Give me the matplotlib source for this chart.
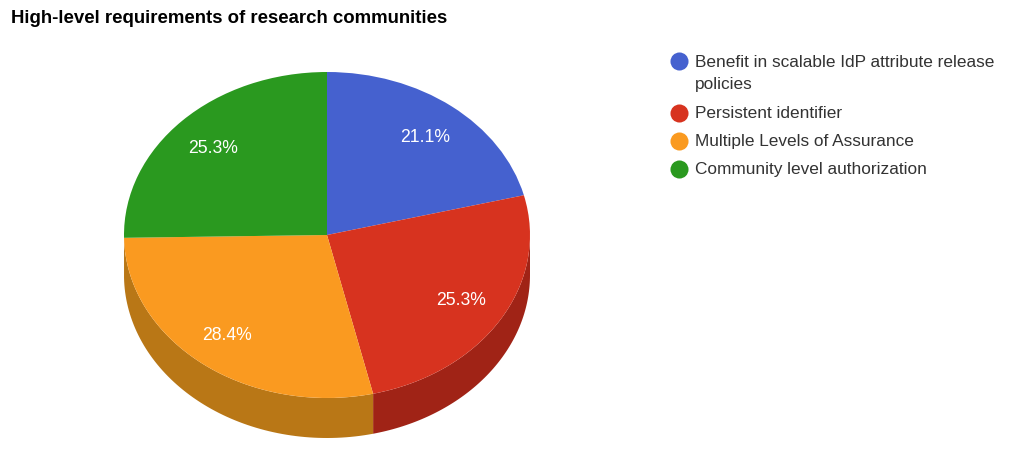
import matplotlib
matplotlib.use('Agg')
import matplotlib.pyplot as plt
from matplotlib.lines import Line2D
import numpy as np

plt.rcParams['font.family'] = ['Liberation Sans', 'DejaVu Sans']

title = 'High-level requirements of research communities'
labels = ['Benefit in scalable IdP attribute release\npolicies', 'Persistent identifier',
          'Multiple Levels of Assurance', 'Community level authorization']
values = [21.1, 25.3, 28.4, 25.3]
colors = ['#4561CF', '#D7331F', '#FA9A20', '#2A991F']
side_colors = ['#2F4390', '#A02316', '#B97716', '#B97716']

W, H = 1013, 461
CX, CY, RX, RY = 327, 235, 203, 163
DEPTH = 40 / RY

fig = plt.figure(figsize=(W / 100, H / 100), dpi=100)
ax = fig.add_axes([0, 0, 1, 1])

# side of the pie first, only the part facing the viewer shows
angle = 90.0
total = sum(values)
for val, col in zip(values, side_colors):
    end = angle - val / total * 360
    lo, hi = max(end, -180), min(angle, 0)
    if hi > lo:
        t = np.radians(np.linspace(lo, hi, 80))
        x = np.cos(t)
        y = np.sin(t)
        ax.fill(np.r_[x, x[::-1]], np.r_[y, y[::-1] - DEPTH], color=col, lw=0)
    angle = end

wedges, texts, autotexts = ax.pie(values, colors=colors, startangle=90, counterclock=False,
                                  autopct='%.1f%%', pctdistance=0.77,
                                  textprops={'color': 'white', 'fontsize': 12.7},
                                  wedgeprops={'linewidth': 0})

# small nudges of the percent labels, in pixels
nudges = [(2, 1), (1, 0), (-4, 2), (-2, 1)]
for txt, (dx, dy) in zip(autotexts, nudges):
    px, py = txt.get_position()
    txt.set_position((px + dx / RX, py - dy / RY))

ax.set_aspect('auto')
ax.set_xlim(-CX / RX, (W - CX) / RX)
ax.set_ylim((CY - H) / RY, CY / RY)
ax.axis('off')

fig.text(11 / W, 1 - 18.5 / H, title, fontsize=13.4, fontweight='bold', color='black', va='center')

# legend by hand, the wrapped first entry needs its own line spacing
y_px = 62
for lab, col in zip(labels, colors):
    n_lines = lab.count('\n') + 1
    y_mid = y_px + (n_lines - 1) * 23.5 / 2
    dot = Line2D([679 / W], [1 - (y_px - 0.5) / H], transform=fig.transFigure, linestyle='none',
                 marker='o', markersize=13, color=col, markeredgewidth=0)
    dot.set_snap(False)
    fig.add_artist(dot)
    fig.text(695 / W, 1 - y_mid / H, lab, fontsize=12.4, color='#333333', va='center',
             linespacing=1.6)
    y_px += (n_lines - 1) * 23.5 + 28

fig.savefig('out.png', dpi=100)
plt.close(fig)
